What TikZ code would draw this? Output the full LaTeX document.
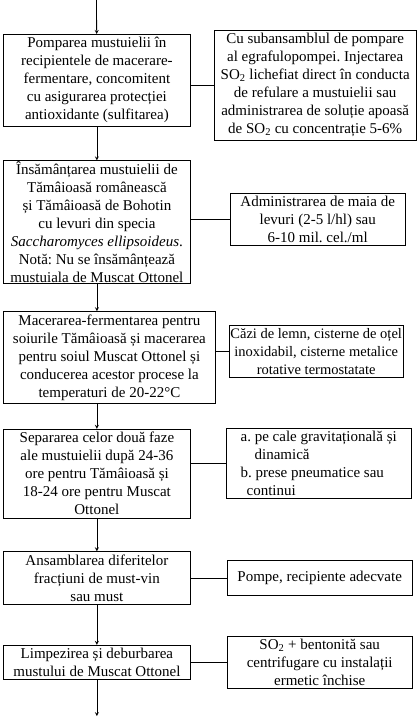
\documentclass[tikz,border=0pt]{standalone}
\usepackage{fontspec}
\setmainfont{Liberation Serif}
\usepackage{tikz}
\usetikzlibrary{shapes,arrows,positioning,calc}
\frenchspacing

\begin{document}
\begin{tikzpicture}[
    x=1pt, y=1pt,
    node distance=34pt,
    font=\fontsize{15}{18}\selectfont,
    proc/.style={rectangle, draw, thick, minimum width=187pt, align=center, inner xsep=3pt, inner ysep=3pt},
    aux/.style={rectangle, draw, thick, align=center, inner xsep=3pt, inner ysep=3pt},
    arrow/.style={thick,->,>=stealth},
    link/.style={thick}
]

\useasboundingbox (0,0) rectangle (417,-718);

\coordinate (start) at (96.5,0);
\node [proc, anchor=north west] (pump) at (3,-34) {Pomparea mustuielii în\\recipientele de macerare-\\fermentare, concomitent\\cu asigurarea protecției\\antioxidante (sulfitarea)};
\node [proc, inner ysep=1pt, below=of pump] (seed) {Însămânțarea mustuielii de\\Tămâioasă românească\\și Tămâioasă de Bohotin\\cu levuri din specia\\\textit{Saccharomyces ellipsoideus}.\\Notă: Nu se însămânțează\\mustuiala de Muscat Ottonel};
\node [proc, minimum width=212pt, below=27pt of seed.south west, anchor=north west] (macer) {Macerarea-fermentarea pentru\\soiurile Tămâioasă și macerarea\\pentru soiul Muscat Ottonel și\\conducerea acestor procese la\\temperaturi de 20-22°C};
\node [proc, below=25pt of macer.south west, anchor=north west] (separ) {Separarea celor două faze\\ale mustuielii după 24-36\\ore pentru Tămâioasă și\\18-24 ore pentru Muscat\\Ottonel};
\node [proc, below=33pt of separ] (blend) {Ansamblarea diferitelor\\fracțiuni de must-vin\\sau must};
\node [proc, below=40pt of blend] (clear) {Limpezirea și deburbarea\\mustului de Muscat Ottonel};
\coordinate [below=36pt of clear] (finish);

% auxiliary notes
\node [aux, minimum width=202pt, right=23pt of pump, yshift=-5pt] (pumpnote) {Cu subansamblul de pompare\\al egrafulopompei. Injectarea\\SO\textsubscript{2} lichefiat direct în conducta\\de refulare a mustuielii sau\\administrarea de soluție apoasă\\de SO\textsubscript{2} cu concentrație 5-6\%};
\node [aux, minimum width=175pt, right=39pt of seed, yshift=3pt] (seednote) {Administrarea de maia de\\levuri (2-5 l/hl) sau\\6-10 mil. cel./ml};
\node [aux, minimum width=174pt, inner xsep=1pt, font=\fontsize{14.5}{18}\selectfont, right=13pt of macer, yshift=6pt] (macernote) {Căzi de lemn, cisterne de oțel\\inoxidabil, cisterne metalice\\rotative termostatate};
\node [aux, minimum width=185pt, align=left, inner xsep=10pt, right=35pt of separ, yshift=10pt] (separnote) {a. pe cale gravitațională și\\\hspace{14pt}dinamică\\b. prese pneumatice sau\\\hspace{6pt}continui};
\node [aux, minimum width=185pt, minimum height=35pt, right=36pt of blend] (blendnote) {Pompe, recipiente adecvate};
\node [aux, minimum width=185pt, right=36pt of clear] (clearnote) {SO\textsubscript{2} + bentonită sau\\centrifugare cu instalații\\ermetic închise};

\draw [arrow] (start) -- (pump);
\draw [arrow] (pump) -- (seed);
\draw [arrow] (seed.south) -- (seed.south |- macer.north);
\draw [arrow] (separ.north |- macer.south) -- (separ);
\draw [arrow] (separ) -- (blend);
\draw [arrow] (blend) -- (clear);
\draw [arrow] (clear) -- (finish);

\draw [link] (pumpnote.west) -- (pumpnote.west -| pump.east);
\draw [link] (seednote.west) -- (seednote.west -| seed.east);
\draw [link] (macernote.west) -- (macernote.west -| macer.east);
\draw [link] (separnote.west) -- (separnote.west -| separ.east);
\draw [link] (blendnote.west) -- (blendnote.west -| blend.east);
\draw [link] (clearnote.west) -- (clearnote.west -| clear.east);

\end{tikzpicture}
\end{document}
